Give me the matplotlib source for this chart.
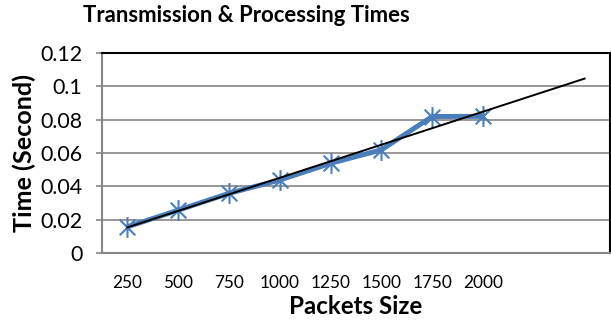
import numpy as np
import matplotlib
matplotlib.use("Agg")
import matplotlib.pyplot as plt
from matplotlib.path import Path

categories = ["250", "500", "750", "1000", "1250", "1500", "1750", "2000"]
times = [0.0157, 0.0257, 0.0358, 0.0438, 0.0538, 0.0619, 0.0819, 0.0820]
yticks = [0, 0.02, 0.04, 0.06, 0.08, 0.1, 0.12]
ytick_labels = ["0", "0.02", "0.04", "0.06", "0.08", "0.1", "0.12"]
forecast_periods = 2

plt.rcParams['font.family'] = ['Lato', 'DejaVu Sans']

W, H = 611, 321
fig = plt.figure(figsize=(W / 100, H / 100), dpi=100)
ax = fig.add_axes([102 / W, 68 / H, 508 / W, 200 / H])

# Excel-style star marker: vertical stroke plus an X
star = Path([(0, -1), (0, 1), (-0.75, -0.75), (0.75, 0.75), (-0.75, 0.75), (0.75, -0.75)],
            [Path.MOVETO, Path.LINETO, Path.MOVETO, Path.LINETO, Path.MOVETO, Path.LINETO])

x = np.arange(1, len(categories) + 1)
blue = '#4A7EBB'
ax.plot(x, times, color=blue, lw=3.6, marker=star, markersize=15,
        markeredgewidth=1.5, markeredgecolor=blue, markerfacecolor='none',
        zorder=3, solid_capstyle='butt')

# linear trendline with forward forecast
coef = np.polyfit(x, times, 1)
xt = np.array([1, len(categories) + forecast_periods])
ax.plot(xt, np.polyval(coef, xt), color='black', lw=1.4, zorder=4)

ax.set_xlim(0.5, len(categories) + forecast_periods + 0.5)
ax.set_ylim(0, 0.12)
ax.set_xticks(x)
ax.set_xticklabels(categories)
ax.set_yticks(yticks)
ax.set_yticklabels(ytick_labels)
ax.tick_params(axis='x', length=0, pad=16)
ax.tick_params(axis='y', length=4, width=1.2, color='#868686', pad=10)

ax.grid(axis='y', color='#868686', lw=1.2)
ax.set_axisbelow(True)
for s in ['left', 'bottom']:
    ax.spines[s].set_color('#868686')
    ax.spines[s].set_linewidth(1.5)
for s in ['top', 'right']:
    ax.spines[s].set_color('black')
    ax.spines[s].set_linewidth(1.5)

title = fig.text(246.5 / W, 1 - 22 / H, 'Transmission & Processing Times',
                 fontsize=14, fontweight='bold', ha='center', va='baseline')
xlab = fig.text(356 / W, 1 - 314 / H, 'Packets Size', fontsize=12,
                fontweight='bold', ha='center', va='baseline')
ylab = fig.text(24 / W, 1 - 153 / H, 'Time (Second)', fontsize=12,
                fontweight='bold', ha='center', va='center', rotation=90)

# fit font sizes to the reference's measured text extents (pixels)
fig.canvas.draw()
r = fig.canvas.get_renderer()

def fit(t, target, dim):
    bb = t.get_window_extent(r)
    cur = bb.width if dim == 'w' else bb.height
    t.set_fontsize(t.get_fontsize() * target / cur)

fit(title, 328, 'w')
fit(xlab, 133, 'w')
fit(ylab, 157, 'h')

for lbl in ax.get_yticklabels():
    lbl.set_fontsize(10)
for lbl in ax.get_xticklabels():
    lbl.set_fontsize(10)
fig.canvas.draw()
wy = ax.get_yticklabels()[4].get_window_extent(r).width
wx = ax.get_xticklabels()[7].get_window_extent(r).width
for lbl in ax.get_yticklabels():
    lbl.set_fontsize(10 * 42 / wy)
for lbl in ax.get_xticklabels():
    lbl.set_fontsize(10 * 40 / wx)

fig.savefig('out.png', dpi=100)
